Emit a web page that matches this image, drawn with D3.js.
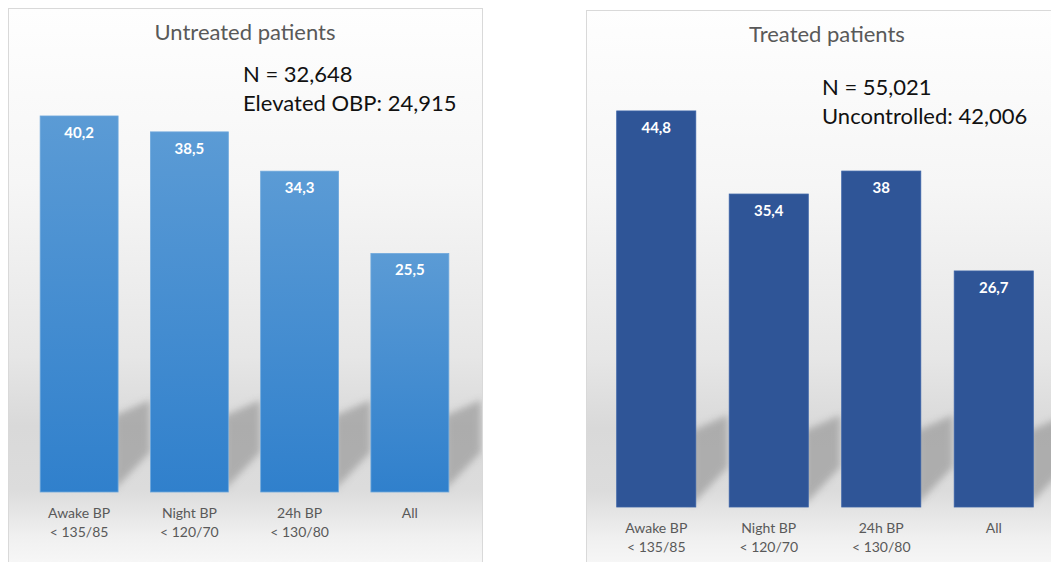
<!DOCTYPE html>
<html>
<head>
<meta charset="utf-8">
<script src="https://cdn.jsdelivr.net/npm/d3@7"></script>
<style>
  body { margin: 0; background: #ffffff; }
  svg { display: block; font-family: Lato, "Open Sans", sans-serif; }
</style>
</head>
<body>
<script>
// categories shared by both charts (two lines each)
var categories = ["Awake BP|< 135/85", "Night BP|< 120/70", "24h BP|< 130/80", "All"];

// series values (percent)
var untreatedValues = [40.2, 38.5, 34.3, 25.5];
var treatedValues = [44.8, 35.4, 38, 26.7];

// value labels as printed
var untreatedLabels = ["40,2", "38,5", "34,3", "25,5"];
var treatedLabels = ["44,8", "35,4", "38", "26,7"];

var titles = ["Untreated patients", "Treated patients"];
var notesUntreated = ["N = 32,648", "Elevated OBP: 24,915"];
var notesTreated = ["N = 55,021", "Uncontrolled: 42,006"];

var width = 1051, height = 562;

var svg = d3.select("body")
  .append("svg")
  .attr("width", width)
  .attr("height", height);

var defs = svg.append("defs");

// panel background: white top, grey floor band, white bottom
var bg = defs.append("linearGradient")
  .attr("id", "panelBg")
  .attr("x1", 0).attr("y1", 0).attr("x2", 0).attr("y2", 1);
[[0, "#fefefe"], [0.3, "#f6f6f6"], [0.6, "#e6e6e6"], [0.72, "#d9d9d9"], [0.83, "#dcdcdc"], [0.91, "#f0f0f0"], [1, "#fdfdfd"]]
  .forEach(function(s){
    bg.append("stop").attr("offset", s[0]).attr("stop-color", s[1]);
  });

var lightBar = defs.append("linearGradient")
  .attr("id", "lightBar")
  .attr("x1", 0).attr("y1", 0).attr("x2", 0).attr("y2", 1);
lightBar.append("stop").attr("offset", 0).attr("stop-color", "#5b9bd5");
lightBar.append("stop").attr("offset", 1).attr("stop-color", "#3080cc");

var blur = defs.append("filter")
  .attr("id", "shadowBlur")
  .attr("x", "-50%").attr("y", "-50%").attr("width", "200%").attr("height", "200%");
blur.append("feGaussianBlur").attr("stdDeviation", 3.5);

drawPanel({
  id: "left",
  box: [8, 8, 474, 580],
  values: untreatedValues,
  labels: untreatedLabels,
  title: titles[0],
  titleX: 245,
  notes: notesUntreated,
  noteX: 243, noteY: 82,
  xRange: [24, 465],
  padInner: 0.293,
  yBottom: 492,
  yMax: 52.6,
  fill: "url(#lightBar)",
  stroke: "#6fa8dc",
  titleY: 40,
  catY: 518
});

drawPanel({
  id: "right",
  box: [586, 10, 500, 580],
  values: treatedValues,
  labels: treatedLabels,
  title: titles[1],
  titleX: 827,
  notes: notesTreated,
  noteX: 822, noteY: 95,
  xRange: [600, 1050],
  padInner: 0.297,
  yBottom: 507,
  yMax: 57.35,
  fill: "#2f5597",
  stroke: "#3a62a6",
  titleY: 42,
  catY: 533
});

function drawPanel(cfg){
  var g = svg.append("g").attr("class", "panel " + cfg.id);

  var clipId = "clip-" + cfg.id;
  defs.append("clipPath").attr("id", clipId)
    .append("rect")
    .attr("x", cfg.box[0]).attr("y", cfg.box[1])
    .attr("width", cfg.box[2]).attr("height", cfg.box[3]);

  g.append("rect")
    .attr("x", cfg.box[0] + 0.5).attr("y", cfg.box[1] + 0.5)
    .attr("width", cfg.box[2]).attr("height", cfg.box[3])
    .attr("fill", "url(#panelBg)")
    .attr("stroke", "#d9d9d9")
    .attr("stroke-width", 1);

  var x = d3.scaleBand()
    .domain(categories)
    .range(cfg.xRange)
    .paddingInner(cfg.padInner)
    .paddingOuter(cfg.padInner / 2);

  var y = d3.scaleLinear()
    .domain([0, cfg.yMax])
    .range([cfg.yBottom, 0]);

  // cast shadows on the floor
  g.append("g")
    .attr("clip-path", "url(#" + clipId + ")")
    .selectAll("polygon")
    .data(cfg.values)
    .enter()
    .append("polygon")
    .attr("points", function(d, i){
      var xr = x(categories[i]) + x.bandwidth();
      var yb = y(0);
      return [[xr - 4, yb - 2], [xr - 4, yb - 76], [xr + 32, yb - 92], [xr + 32, yb - 40]]
        .map(function(p){ return p.join(","); }).join(" ");
    })
    .attr("fill", "#a2a2a2")
    .attr("opacity", 0.8)
    .attr("filter", "url(#shadowBlur)");

  g.selectAll("rect.bar")
    .data(cfg.values)
    .enter()
    .append("rect")
    .attr("class", "bar")
    .attr("x", function(d, i){ return x(categories[i]); })
    .attr("y", function(d){ return y(d); })
    .attr("width", x.bandwidth())
    .attr("height", function(d){ return y(0) - y(d); })
    .attr("fill", cfg.fill)
    .attr("stroke", cfg.stroke)
    .attr("stroke-width", 0.8);

  g.selectAll("text.value")
    .data(cfg.values)
    .enter()
    .append("text")
    .attr("class", "value")
    .attr("x", function(d, i){ return x(categories[i]) + x.bandwidth() / 2; })
    .attr("y", function(d){ return y(d) + 22; })
    .attr("text-anchor", "middle")
    .attr("fill", "#ffffff")
    .attr("font-weight", "bold")
    .attr("font-size", 15)
    .text(function(d, i){ return cfg.labels[i]; });

  var cats = g.selectAll("text.cat")
    .data(categories)
    .enter()
    .append("text")
    .attr("class", "cat")
    .attr("x", function(d){ return x(d) + x.bandwidth() / 2; })
    .attr("y", cfg.catY)
    .attr("text-anchor", "middle")
    .attr("fill", "#595959")
    .attr("font-size", 14);
  cats.each(function(d){
    var lines = d.split("|");
    var t = d3.select(this);
    lines.forEach(function(l, k){
      t.append("tspan")
        .attr("x", x(d) + x.bandwidth() / 2)
        .attr("dy", k === 0 ? 0 : 19)
        .text(l);
    });
  });

  g.append("text")
    .attr("x", cfg.titleX)
    .attr("y", cfg.titleY)
    .attr("text-anchor", "middle")
    .attr("fill", "#595959")
    .attr("font-size", 22)
    .text(cfg.title);

  g.selectAll("text.note")
    .data(cfg.notes)
    .enter()
    .append("text")
    .attr("class", "note")
    .attr("x", cfg.noteX)
    .attr("y", function(d, i){ return cfg.noteY + i * 29; })
    .attr("fill", "#111111")
    .attr("font-size", 22)
    .text(function(d){ return d; });
}
</script>
</body>
</html>
